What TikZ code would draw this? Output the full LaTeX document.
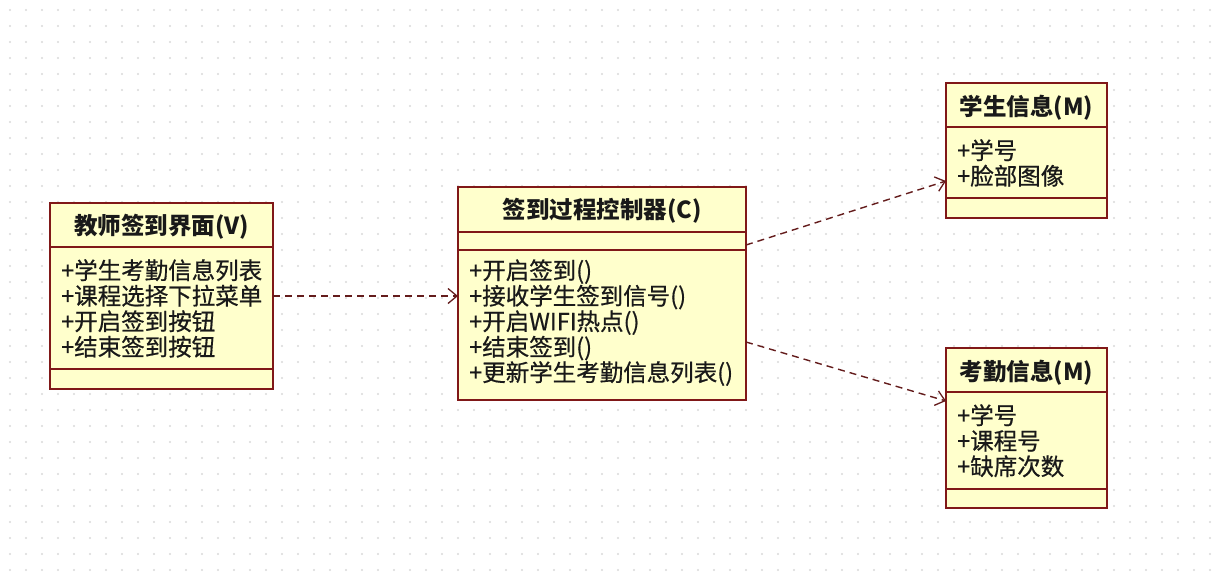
\documentclass[tikz,border=0pt]{standalone}
\usepackage{fontspec}
\setmainfont{Noto Sans CJK SC}
\newfontfamily\attrfont[FakeBold=0.6]{Noto Sans CJK SC}
\usetikzlibrary{arrows.meta}
\definecolor{umlborder}{RGB}{128,24,24}
\definecolor{umlfill}{RGB}{255,255,204}
\definecolor{umlline}{RGB}{100,28,28}
\definecolor{griddot}{RGB}{218,218,218}
\begin{document}
\begin{tikzpicture}[x=1pt,y=-1pt,
  classbox/.style={draw=umlborder, fill=umlfill, line width=1.3pt, anchor=north west, inner sep=0pt, outer sep=0pt},
  divider/.style={draw=umlborder, line width=1.3pt},
  txt/.style={inner sep=0pt, text height=0.86em, text depth=0.12em, text=black!90, yshift=-5.5pt},
  title/.style={txt, font=\fontsize{23.5}{25}\selectfont\bfseries},
  attr/.style={txt, anchor=west, font=\fontsize{23.5}{25}\selectfont\attrfont},
  dep/.style={draw=umlline, line width=1.4pt, dash pattern=on 7pt off 5pt, -{Straight Barb[length=9pt,width=15pt,line width=1.3pt]}}
]
\fill[white] (0,0) rectangle (1221,573);
\useasboundingbox (0,0) rectangle (1221,573);
\foreach \gx in {10,26,...,1220} {
  \foreach \gy in {10,26,...,570} {
    \fill[griddot] (\gx,\gy) circle (1.1pt);
  }
}

% ---- Teacher view
\node[classbox, minimum width=223pt, minimum height=186pt] (v) at (50,203) {};
\draw[divider] (50,247) -- (273,247);
\draw[divider] (50,369) -- (273,369);
\node[title] (vt) at (161.5,225) {教师签到界面(V)};
\node[attr] (v1) at (61,270) {+学生考勤信息列表};
\node[attr] (v2) at (61,295.5) {+课程选择下拉菜单};
\node[attr] (v3) at (61,321) {+开启签到按钮};
\node[attr] (v4) at (61,346.5) {+结束签到按钮};

% ---- Controller
\node[classbox, minimum width=288pt, minimum height=213pt] (c) at (458,187) {};
\draw[divider] (458,232) -- (746,232);
\draw[divider] (458,250) -- (746,250);
\node[title] (ct) at (602,209.5) {签到过程控制器(C)};
\node[attr] (c1) at (469,270) {+开启签到()};
\node[attr] (c2) at (469,295.5) {+接收学生签到信号()};
\node[attr] (c3) at (469,321) {+开启WIFI热点()};
\node[attr] (c4) at (469,346.5) {+结束签到()};
\node[attr] (c5) at (469,372) {+更新学生考勤信息列表()};

% ---- Student info
\node[classbox, minimum width=161pt, minimum height=135pt] (s) at (946,83) {};
\draw[divider] (946,127) -- (1107,127);
\draw[divider] (946,198) -- (1107,198);
\node[title] (st) at (1026.5,106) {学生信息(M)};
\node[attr] (s1) at (957,150) {+学号};
\node[attr] (s2) at (957,175.5) {+脸部图像};

% ---- Attendance info
\node[classbox, minimum width=161pt, minimum height=160pt] (a) at (946,348) {};
\draw[divider] (946,392) -- (1107,392);
\draw[divider] (946,489) -- (1107,489);
\node[title] (at) at (1026.5,371) {考勤信息(M)};
\node[attr] (a1) at (957,415) {+学号};
\node[attr] (a2) at (957,440.5) {+课程号};
\node[attr] (a3) at (957,466) {+缺席次数};

% ---- connectors
\coordinate (cs) at (746,245);
\coordinate (se) at (946,181);
\coordinate (ca) at (746,342);
\coordinate (ae) at (946,401);
\draw[dep] (v.east) -- (v.east -| c.west);
\draw[dep] (cs) -- (se);
\draw[dep] (ca) -- (ae);
\end{tikzpicture}
\end{document}
